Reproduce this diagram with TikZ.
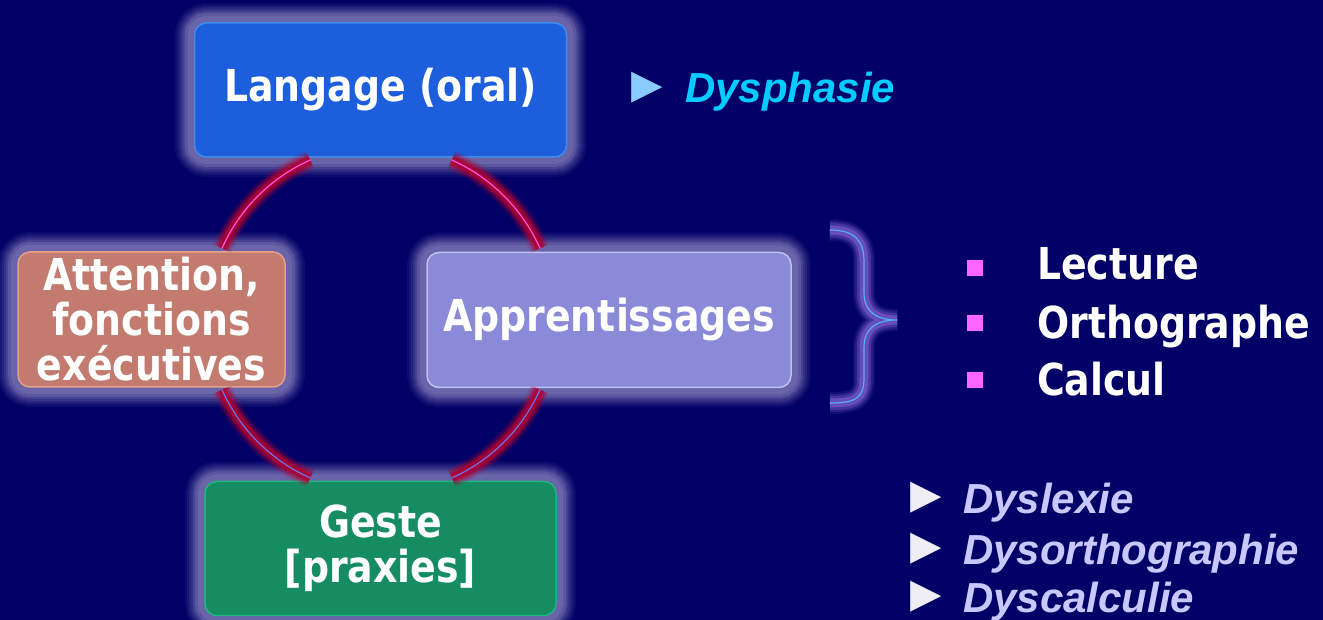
\documentclass[tikz,border=0pt]{standalone}
\usepackage{fontspec}
\setmainfont{DejaVu Sans}
\newfontfamily\tah[FakeStretch=0.86]{DejaVu Sans}
\newfontfamily\arialf{Liberation Sans}
\usetikzlibrary{calc}
\definecolor{bg}{HTML}{000066}
\definecolor{halo}{HTML}{8E86C0}
\definecolor{langfill}{HTML}{1C5EDB}
\definecolor{langedge}{HTML}{3C8CEC}
\definecolor{attfill}{HTML}{C27B6E}
\definecolor{attedge}{HTML}{E6A08A}
\definecolor{appfill}{HTML}{8A8AD8}
\definecolor{appedge}{HTML}{C0C0F4}
\definecolor{gestfill}{HTML}{168C63}
\definecolor{gestedge}{HTML}{22B47F}
\definecolor{glowred}{HTML}{B00030}
\definecolor{pinkline}{HTML}{FF55DD}
\definecolor{blueline}{HTML}{7070E8}
\definecolor{bracelow}{HTML}{8A6AD8}
\definecolor{braceline}{HTML}{55AAFF}
\definecolor{bulletpink}{HTML}{FF66FF}
\definecolor{dyscyan}{HTML}{00CCFF}
\definecolor{tricyan}{HTML}{88CCFF}
\definecolor{dyslav}{HTML}{C8C8FF}
\definecolor{triwhite}{HTML}{EEEEF4}
\tikzset{
  box/.style={rounded corners=12pt, text=white, align=center,
    font=\tah\bfseries\fontsize{44}{45}\selectfont, inner sep=0pt,
    preaction={draw=halo, line width=40pt, opacity=0.08},
    preaction={draw=halo, line width=36pt, opacity=0.1},
    preaction={draw=halo, line width=32pt, opacity=0.12},
    preaction={draw=halo, line width=28pt, opacity=0.15},
    preaction={draw=halo, line width=24pt, opacity=0.2},
    preaction={draw=halo, line width=20pt, opacity=0.3},
    preaction={draw=halo, line width=14pt, opacity=0.3},
    line width=1.5pt},
  glowarc/.style={line cap=round,
    preaction={draw=glowred, line width=20pt, opacity=0.15},
    preaction={draw=glowred, line width=16pt, opacity=0.25},
    preaction={draw=glowred, line width=12pt, opacity=0.45},
    preaction={draw=glowred, line width=8pt, opacity=0.7},
    line width=1.2pt},
  braceglow/.style={line cap=round, line join=round,
    preaction={draw=bracelow, line width=22pt, opacity=0.12},
    preaction={draw=bracelow, line width=18pt, opacity=0.2},
    preaction={draw=bracelow, line width=14pt, opacity=0.3},
    preaction={draw=bracelow, line width=9pt, opacity=0.5},
    line width=1.2pt},
  listtext/.style={anchor=base west, text=white, inner sep=0pt,
    font=\tah\bfseries\fontsize{44}{50}\selectfont},
  sqbullet/.style={fill=bulletpink, minimum size=16pt, inner sep=0pt},
  dystext/.style={anchor=base west, inner sep=0pt,
    font=\arialf\bfseries\itshape\fontsize{42}{49}\selectfont},
  tri/.style={inner sep=0pt, font=\arialf\fontsize{52}{56}\selectfont}
}
\begin{document}
\begin{tikzpicture}[x=1pt,y=1pt]
\fill[bg] (0,0) rectangle (1323,620);
\useasboundingbox (0,0) rectangle (1323,620);
\clip (0,0) rectangle (1323,620);

% boxes
\node[box, fill=langfill, draw=langedge, minimum width=372pt, minimum height=134pt] (lang) at (380.5,530) {Langage (oral)};
\node[box, fill=attfill, draw=attedge, minimum width=267pt, minimum height=135pt] (att) at (151.5,300.5) {Attention,\\fonctions\\exécutives};
\node[box, fill=appfill, draw=appedge, minimum width=364pt, minimum height=135pt] (app) at (609,300) {Apprentissages};
\node[box, fill=gestfill, draw=gestedge, minimum width=351pt, minimum height=134pt] (gest) at (380.5,71.5) {Geste\\{}[praxies]};

% circle arcs between boxes
\coordinate (c) at (381,301);
\draw[glowarc, pinkline] ($(c)+(114:174)$) arc[start angle=114, end angle=156, radius=174pt];
\draw[glowarc, pinkline] ($(c)+(66:174)$) arc[start angle=66, end angle=24, radius=174pt];
\draw[glowarc, blueline] ($(c)+(204:174)$) arc[start angle=204, end angle=246, radius=174pt];
\draw[glowarc, blueline] ($(c)+(336:174)$) arc[start angle=336, end angle=294, radius=174pt];

% brace
\coordinate (btop) at (830,390);
\coordinate (btip) at (897,300);
\coordinate (bbot) at (830,217);
\draw[braceglow, braceline]
  (btop) .. controls (856,390) and (864,378) .. (864,358) -- (864,328)
  .. controls (864,310) and (874,300) .. (btip)
  .. controls (874,300) and (864,290) .. (864,272) -- (864,242)
  .. controls (864,222) and (856,217) .. (bbot);

% list
\node[sqbullet] (b1) at (975,352) {};
\node[sqbullet] (b2) at (975,297) {};
\node[sqbullet] (b3) at (975,240) {};
\node[listtext] (l1) at (1037,340) {Lecture};
\node[listtext] (l2) at (1037,281) {Orthographe};
\node[listtext] (l3) at (1037,224) {Calcul};

% Dysphasie
\node[tri, text=tricyan] (t0) at (647,532) {►};
\node[dystext, text=dyscyan] (d0) at (685,517) {Dysphasie};

% dys list
\node[tri, text=triwhite] (t1) at (926,122) {►};
\node[tri, text=triwhite] (t2) at (926,71) {►};
\node[tri, text=triwhite] (t3) at (926,23) {►};
\node[dystext, text=dyslav] (d1) at (963,106) {Dyslexie};
\node[dystext, text=dyslav] (d2) at (963,55) {Dysorthographie};
\node[dystext, text=dyslav] (d3) at (963,7) {Dyscalculie};
\end{tikzpicture}
\end{document}
